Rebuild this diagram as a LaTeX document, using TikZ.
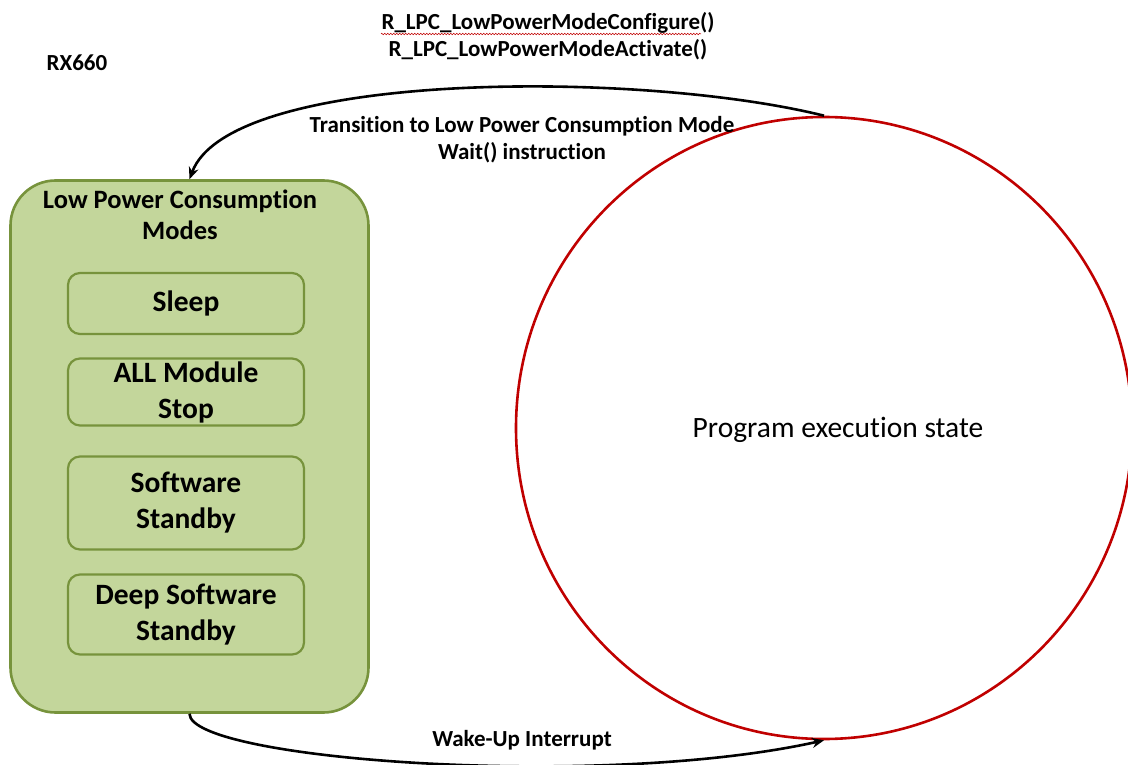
\documentclass[tikz,border=0pt]{standalone}
\usepackage{fontspec}
\setmainfont{Carlito}[Ligatures=NoCommon]
\usetikzlibrary{arrows.meta,shapes.geometric,decorations.pathmorphing}
\definecolor{gfill}{HTML}{C3D69B}
\definecolor{gline}{HTML}{77933C}
\definecolor{cred}{HTML}{C00000}
\begin{document}
\begin{tikzpicture}[x=1pt,y=-1pt,
  outerbox/.style={draw=gline,fill=gfill,line width=2.6pt,rounded corners=45pt,minimum width=358pt,minimum height=532pt,inner sep=0pt},
  modebox/.style={draw=gline,line width=2.2pt,rounded corners=12pt,minimum width=236pt,inner sep=0pt,align=center,font=\bfseries\fontsize{29.5}{36}\selectfont},
  lbl/.style={font=\bfseries\fontsize{23}{27}\selectfont,align=center,inner sep=0pt},
  conn/.style={line width=2.6pt,-{Stealth[length=12pt,width=10pt]}}
]
\useasboundingbox (0,0) rectangle (1128,765);
\node[outerbox] (lpc) at (189.5,446.5) {};
\node[font=\bfseries\fontsize{26.5}{31}\selectfont,align=center,inner sep=0pt] (lpct) at (180,215) {Low Power Consumption\\Modes};
\node[modebox,minimum height=61pt] (sleep) at (186,303.5) {Sleep};
\node[modebox,minimum height=67pt] (allm) at (186,392) {ALL Module\\Stop};
\node[modebox,minimum height=93pt] (sws) at (186,503) {Software\\Standby};
\node[modebox,minimum height=80pt] (dss) at (186,614.5) {Deep Software\\Standby};
\node[draw=cred,line width=2.6pt,ellipse,minimum width=616pt,minimum height=622pt,inner sep=0pt,
  label={[font=\fontsize{29.5}{34}\selectfont,xshift=14pt,yshift=-1.5pt]center:Program execution state}] (prog) at (824,428) {};
\node[lbl] (rx) at (77,63) {RX660};
\node[lbl] (api) at (548,36) {R\_LPC\_LowPowerModeConfigure()\\R\_LPC\_LowPowerModeActivate()};
\draw[cred,line width=0.5pt,decorate,decoration={zigzag,segment length=3pt,amplitude=0.8pt}] (381,34) -- (701,34);
\node[lbl] (tr) at (522,140) {Transition to Low Power Consumption Mode\\Wait() instruction};
\node[lbl] (wk) at (522,740) {Wake-Up Interrupt};
\draw[conn] (prog.north) .. controls (640,70) and (230,70) .. (lpc.north);
\draw[conn] (lpc.south) .. controls (190,760) and (600,790) .. (prog.south);
\end{tikzpicture}
\end{document}
